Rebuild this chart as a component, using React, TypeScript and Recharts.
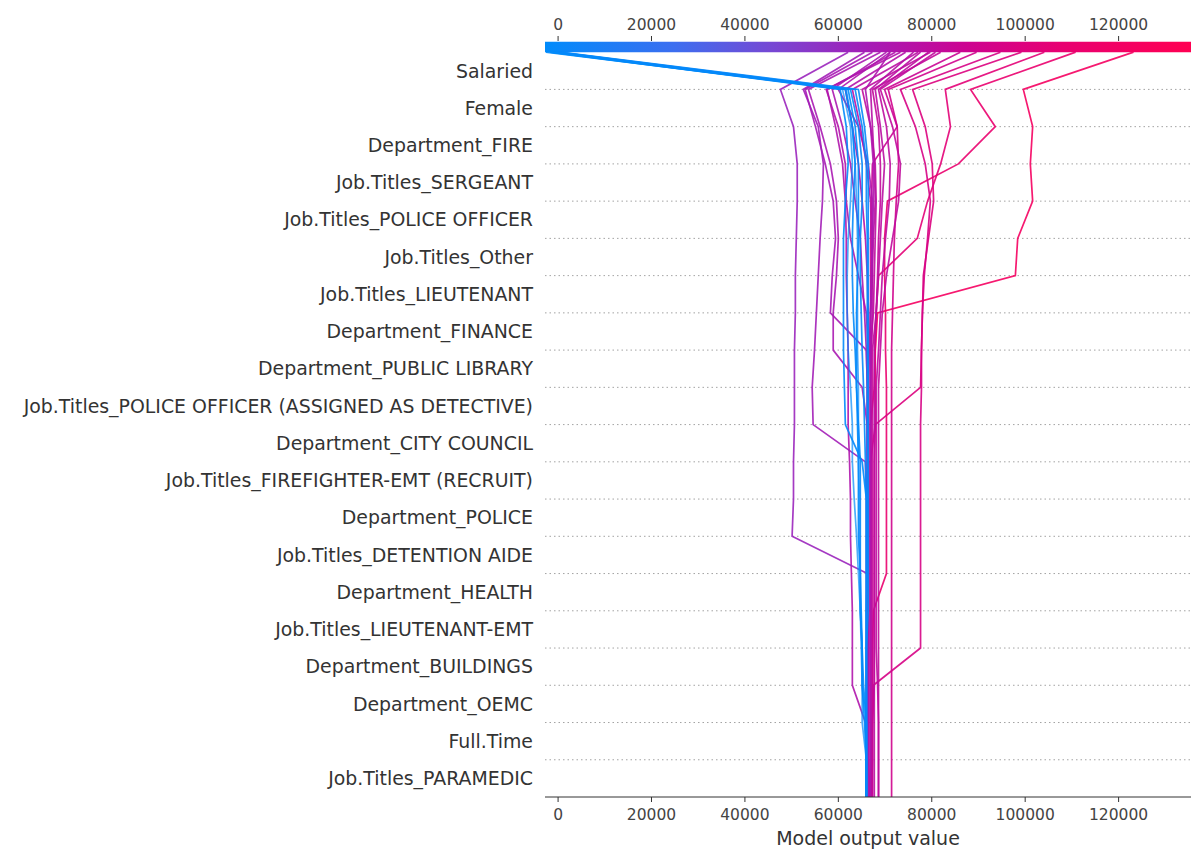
import React from 'react';
import { LineChart, Line, XAxis, YAxis, ReferenceLine, ReferenceArea } from 'recharts';

// features from bottom (index 0) to top (index 19)
const featureNames = [
  'Job.Titles_PARAMEDIC',
  'Full.Time',
  'Department_OEMC',
  'Department_BUILDINGS',
  'Job.Titles_LIEUTENANT-EMT',
  'Department_HEALTH',
  'Job.Titles_DETENTION AIDE',
  'Department_POLICE',
  'Job.Titles_FIREFIGHTER-EMT (RECRUIT)',
  'Department_CITY COUNCIL',
  'Job.Titles_POLICE OFFICER (ASSIGNED AS DETECTIVE)',
  'Department_PUBLIC LIBRARY',
  'Department_FINANCE',
  'Job.Titles_LIEUTENANT',
  'Job.Titles_Other',
  'Job.Titles_POLICE OFFICER',
  'Job.Titles_SERGEANT',
  'Department_FIRE',
  'Female',
  'Salaried',
];

const levels = [0, 1, 2, 3, 4, 5, 6, 7, 8, 9, 10, 11, 12, 13, 14, 15, 16, 17, 18, 19, 20];
const gridLevels = [1, 2, 3, 4, 5, 6, 7, 8, 9, 10, 11, 12, 13, 14, 15, 16, 17, 18, 19];
const featureTicks = [0.5, 1.5, 2.5, 3.5, 4.5, 5.5, 6.5, 7.5, 8.5, 9.5, 10.5, 11.5, 12.5, 13.5, 14.5, 15.5, 16.5, 17.5, 18.5, 19.5];
const xTicks = [0, 20000, 40000, 60000, 80000, 100000, 120000];

// cumulative model output per observation, bottom (base) -> top (prediction)
const salariedA = [66900, 66900, 66900, 66900, 66900, 66900, 66900, 66900, 66900, 66900, 66900, 67700, 67900, 68400, 97900, 98400, 101600, 101100, 101600, 99600, 123200];
const salariedD = [67100, 67100, 67300, 67300, 67300, 67500, 70300, 70300, 70300, 70300, 70300, 70300, 70100, 70100, 69900, 69900, 70500, 85700, 93600, 88300, 110800];
const salariedC = [67300, 67300, 67300, 67700, 67700, 67700, 67700, 67700, 67700, 67700, 67900, 67900, 67900, 68100, 68600, 76900, 79100, 81900, 84000, 82900, 104100];
const salariedS6 = [66900, 66900, 66900, 66900, 66900, 66900, 66900, 66900, 66900, 66900, 67900, 77600, 77800, 78000, 78200, 79300, 80400, 80100, 78600, 75900, 99200];
const salariedE = [67100, 67300, 67300, 67500, 77600, 77600, 77600, 77600, 77600, 77600, 77600, 77800, 77800, 78000, 78400, 79100, 79700, 78600, 76500, 73300, 94700];
const salariedS9 = [71400, 71400, 71400, 71400, 71400, 71400, 71400, 71400, 71400, 71400, 71400, 71400, 71400, 71600, 71800, 72000, 72400, 72900, 72600, 70700, 89600];
const salariedS13 = [66900, 66900, 66900, 66900, 66900, 66900, 66900, 66900, 66900, 66900, 66900, 66900, 66900, 66900, 66900, 66900, 67100, 67300, 72600, 69900, 86100];
const salariedS18 = [67300, 67300, 67300, 67300, 67300, 67300, 67300, 67300, 67300, 67300, 67300, 67300, 67300, 68100, 68400, 68600, 69000, 69000, 68600, 67300, 81900];
const salariedS24 = [68600, 68600, 68600, 68600, 68600, 68600, 68600, 68600, 68600, 68600, 68600, 68600, 69000, 69400, 70300, 71600, 72900, 73300, 71600, 69000, 80800];
const salariedS16 = [66900, 66900, 66900, 66900, 66900, 66900, 66900, 66900, 66900, 66900, 66900, 66900, 66900, 67500, 67700, 67900, 68100, 67900, 66900, 65100, 79700];
const salariedS8 = [68600, 68600, 68600, 68400, 68100, 68100, 68100, 68100, 68100, 68100, 68100, 68100, 68600, 69000, 69400, 70100, 70900, 71100, 70300, 68600, 79300];
const salariedS23 = [67700, 67700, 67700, 67700, 67700, 67700, 67700, 67700, 67700, 67700, 67700, 67700, 67700, 68100, 68600, 69000, 69400, 69900, 69000, 67900, 77600];
const salariedS15 = [66600, 66900, 66900, 66900, 66900, 66900, 66900, 66900, 66900, 66900, 66900, 66900, 66900, 66900, 67300, 67100, 66900, 66000, 64700, 63000, 77100];
const salariedS7 = [66900, 66900, 66900, 66900, 66900, 66900, 66900, 66900, 66900, 66900, 66900, 66900, 67100, 67300, 67300, 67500, 67900, 67700, 67300, 66900, 76100];
const salariedS14 = [66400, 66400, 66400, 66400, 66400, 66400, 66400, 66400, 66400, 66400, 66400, 66400, 66400, 66400, 66200, 65800, 65100, 64300, 63000, 61500, 74400];
const salariedS21 = [66400, 66400, 66400, 66400, 66400, 66400, 66400, 66400, 66400, 66400, 66400, 66400, 66400, 66000, 64300, 62600, 61700, 61500, 60000, 57400, 73300];
const salariedS5 = [66000, 66000, 65800, 63000, 63000, 63000, 62800, 62600, 62600, 62400, 62100, 62100, 62100, 61900, 61700, 61700, 61500, 60900, 59400, 57600, 72200];
const salariedS22 = [66900, 66900, 66900, 66900, 66900, 66900, 66900, 66900, 66900, 66900, 66900, 66900, 66900, 66900, 67100, 67300, 67500, 67500, 66900, 65800, 71100];
const salariedS20 = [66400, 66400, 66400, 66400, 66400, 66400, 66400, 66400, 66400, 66400, 66400, 66400, 66600, 66900, 67100, 67300, 67300, 66400, 64300, 60000, 71100];
const salariedS17 = [66200, 66200, 66200, 66200, 66200, 66200, 66200, 66200, 66200, 66200, 66200, 66200, 66000, 65600, 65100, 64700, 63600, 62600, 60900, 58700, 70300];
const salariedS4 = [66200, 66200, 66200, 66200, 66200, 66200, 66200, 66200, 66200, 66200, 66200, 65100, 58900, 58900, 59600, 60000, 59600, 58300, 56100, 53600, 69000];
const salariedS3 = [66200, 66200, 66200, 66200, 66200, 66200, 66200, 66200, 66200, 66200, 66200, 66200, 66000, 58300, 58700, 59400, 58900, 57200, 55100, 52900, 67300];
const salariedS2 = [66000, 66000, 66000, 66000, 66000, 66000, 66000, 66000, 66000, 65800, 54600, 54400, 54900, 55300, 55700, 56100, 56600, 56800, 55700, 52500, 65600];
const salariedS1 = [66200, 66200, 66200, 66200, 66200, 66200, 66200, 50100, 50400, 50400, 50600, 50600, 50600, 50800, 50800, 51000, 51200, 51200, 50400, 47600, 62100];

const hourly1 = [66000, 66000, 66000, 66000, 66000, 66000, 66000, 66000, 66000, 65100, 61500, 61300, 61100, 61100, 61100, 61100, 61500, 62100, 61700, 60400, -1700];
const hourly2 = [66000, 66000, 66000, 65400, 65100, 64900, 64700, 64700, 64700, 64700, 64300, 63900, 63600, 63200, 63000, 63000, 63200, 63600, 63000, 61500, -1100];
const hourly3 = [66000, 66000, 66000, 66000, 66000, 66000, 66000, 66000, 66000, 65800, 65600, 65400, 65100, 64900, 64700, 64700, 65100, 65100, 64300, 62600, -400];
const hourly4 = [66000, 66000, 66000, 66000, 66000, 66000, 66200, 66200, 66200, 66200, 66200, 66200, 66200, 66200, 66200, 66200, 66000, 66000, 65100, 63600, 0];
const hourly5 = [66000, 66000, 66000, 66000, 66000, 66400, 66400, 66400, 66400, 66400, 66400, 66400, 66400, 66400, 66400, 66400, 66400, 66400, 65600, 64300, 400];
const hourly6 = [66000, 66000, 65600, 65100, 65100, 64700, 64700, 64300, 64300, 64300, 64100, 63900, 63900, 63900, 64100, 64300, 64300, 64300, 63600, 62100, -2600];
const hourly7 = [66000, 66000, 66000, 65100, 65100, 64700, 64300, 63900, 63400, 63000, 63000, 62600, 62100, 61900, 61900, 62100, 62600, 63000, 62600, 60900, -1500];
const hourly8 = [66000, 66000, 65100, 65100, 64900, 64700, 64700, 64500, 64500, 64300, 64300, 64300, 64100, 64100, 64100, 64100, 63900, 63600, 63000, 61700, -200];

const salariedPaths = [
  salariedA, salariedD, salariedC, salariedS6, salariedE, salariedS9, salariedS13, salariedS18,
  salariedS24, salariedS16, salariedS8, salariedS23, salariedS15, salariedS7, salariedS14,
  salariedS21, salariedS5, salariedS22, salariedS20, salariedS17, salariedS4, salariedS3,
  salariedS2, salariedS1,
];
const hourlyPaths = [hourly1, hourly2, hourly3, hourly4, hourly5, hourly6, hourly7, hourly8];
const paths = [...salariedPaths, ...hourlyPaths];

const X_MIN = -2800;
const X_MAX = 135500;

// approximation of the shap red_blue colormap
const colorStops: [number, number[]][] = [
  [0, [0, 139, 251]],
  [0.2, [60, 110, 240]],
  [0.35, [118, 72, 212]],
  [0.5, [165, 28, 182]],
  [0.65, [204, 3, 145]],
  [0.8, [232, 0, 113]],
  [1, [255, 0, 82]],
];

function colorAt(t: number) {
  const c = Math.max(0, Math.min(1, t));
  for (let i = 1; i < colorStops.length; i++) {
    const [t1, c1] = colorStops[i];
    const [t0, c0] = colorStops[i - 1];
    if (c <= t1) {
      const f = (c - t0) / (t1 - t0);
      const rgb = c0.map((v, k) => Math.round(v + (c1[k] - v) * f));
      return `rgb(${rgb.join(',')})`;
    }
  }
  return 'rgb(255,0,82)';
}

const rows = levels.map((lv) => {
  const r: Record<string, number> = { level: lv };
  paths.forEach((p, j) => {
    r['s' + j] = p[lv];
  });
  return r;
});

const tickStyle = { fontSize: 15.5, fill: '#444', fontFamily: 'DejaVu Sans' };

export default function App() {
  return (
    <div style={{ position: 'absolute', left: 0, top: 0, background: '#fff', fontFamily: 'DejaVu Sans' }}>
      <LineChart
        width={1191}
        height={849}
        data={rows}
        layout="vertical"
        margin={{ top: 11, right: 0, bottom: 0, left: 0 }}
      >
        <defs>
          <linearGradient id="cbar" x1="0" y1="0" x2="1" y2="0">
            {colorStops.map(([t, c]) => (
              <stop key={t} offset={`${t * 100}%`} stopColor={`rgb(${c.join(',')})`} />
            ))}
          </linearGradient>
        </defs>
        <XAxis
          type="number"
          domain={[X_MIN, X_MAX]}
          ticks={xTicks}
          interval={0}
          allowDataOverflow
          height={52}
          tickSize={5}
          tickMargin={7}
          tick={tickStyle}
          axisLine={{ stroke: '#333' }}
          tickLine={{ stroke: '#333' }}
          label={{ value: 'Model output value', position: 'insideBottom', offset: 4, fontSize: 19, fill: '#333', fontFamily: 'DejaVu Sans' }}
        />
        <XAxis
          xAxisId="top"
          orientation="top"
          type="number"
          domain={[X_MIN, X_MAX]}
          ticks={xTicks}
          interval={0}
          allowDataOverflow
          height={30}
          tickSize={5}
          tickMargin={6}
          tick={tickStyle}
          axisLine={false}
          tickLine={{ stroke: '#333' }}
        />
        <YAxis
          type="number"
          dataKey="level"
          domain={[0, 20.3]}
          reversed
          allowDataOverflow
          ticks={featureTicks}
          interval={0}
          width={545}
          axisLine={false}
          tickLine={false}
          tickSize={6}
          tickMargin={6}
          tickFormatter={(v: number) => featureNames[Math.floor(v)]}
          tick={{ fontSize: 18.9, fill: '#333', fontFamily: 'DejaVu Sans' }}
        />
        {gridLevels.map((lv) => (
          <ReferenceLine key={lv} y={lv} stroke="#999" strokeWidth={0.9} strokeDasharray="1.5 3" />
        ))}
        {paths.map((p, j) => (
          <Line
            key={j}
            dataKey={'s' + j}
            type="linear"
            dot={false}
            activeDot={false}
            stroke={colorAt((p[20] - X_MIN) / (X_MAX - X_MIN))}
            strokeWidth={1.7}
            strokeOpacity={j >= salariedPaths.length + 6 ? 0.7 : 0.9}
            isAnimationActive={false}
          />
        ))}
        <ReferenceArea
          x1={X_MIN}
          x2={X_MAX}
          y1={20}
          y2={20.28}
          fill="url(#cbar)"
          fillOpacity={1}
          stroke="none"
          ifOverflow="visible"
        />
      </LineChart>
    </div>
  );
}
